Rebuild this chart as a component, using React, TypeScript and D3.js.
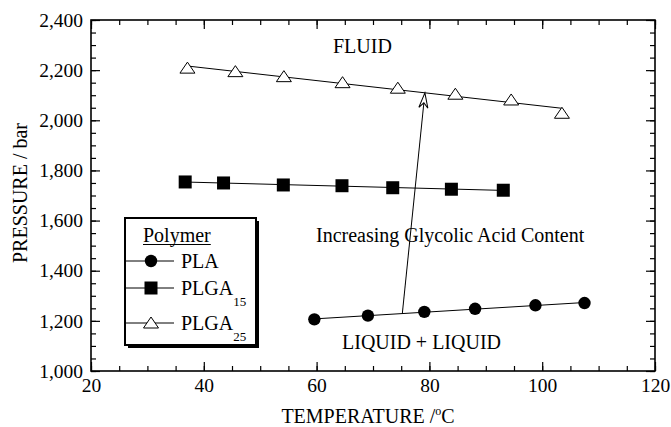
import React, { useRef, useEffect } from "react";
import * as d3 from "d3";

const plaTemp = [59.6, 69.1, 79.1, 88.1, 98.8, 107.5];
const plaPress = [1206, 1221, 1236, 1248, 1262, 1271];
const plga15Temp = [36.7, 43.5, 54.1, 64.5, 73.5, 83.9, 93.1];
const plga15Press = [1754, 1750, 1742, 1739, 1731, 1725, 1721];
const plga25Temp = [37.1, 45.6, 54.2, 64.6, 74.4, 84.6, 94.5, 103.5];
const plga25Press = [2208, 2194, 2174, 2150, 2128, 2104, 2081, 2028];
const xTicks = [20, 40, 60, 80, 100, 120];
const yTicks = [1000, 1200, 1400, 1600, 1800, 2000, 2200, 2400];
// arrow runs from the PLA fit line up to the PLGA25 fit line
const arrowTemps = [75.2, 79.2];

const FONT = "Liberation Serif, DejaVu Serif, serif";

// least squares fit
function fit(xs: number[], ys: number[]) {
  const mx = d3.mean(xs) as number;
  const my = d3.mean(ys) as number;
  let sxy = 0,
    sxx = 0;
  xs.forEach((x, i) => {
    sxy += (x - mx) * (ys[i] - my);
    sxx += (x - mx) * (x - mx);
  });
  const b = sxy / sxx;
  return (x: number) => my + b * (x - mx);
}

function App() {
  const svgRef = useRef<SVGSVGElement>(null);

  useEffect(() => {
    const margin = { top: 20, right: 16, bottom: 56, left: 91 },
      width = 671 - margin.left - margin.right,
      height = 427 - margin.top - margin.bottom;

    const root = d3.select(svgRef.current);
    root.selectAll("*").remove();

    const svg = root
      .append("g")
      .attr("transform", `translate(${margin.left}, ${margin.top})`);

    const x = d3.scaleLinear().domain([20, 120]).range([0, width]);
    const y = d3.scaleLinear().domain([1000, 2400]).range([height, 0]);

    const minorX = d3.range(20, 121, 5);
    const minorY = d3.range(1000, 2401, 50);

    const styleAxis = (g: any) => {
      g.attr("font-family", null).attr("font-size", null);
      g.select(".domain").remove();
      g.selectAll("line").attr("stroke", "#000").attr("stroke-width", 1.2);
      g.selectAll("text")
        .style("font-family", FONT)
        .attr("font-size", 19.5)
        .attr("fill", "#000");
    };

    // minor ticks all round
    svg
      .append("g")
      .attr("transform", `translate(0, ${height})`)
      .call(d3.axisBottom(x).tickValues(minorX).tickSize(-5).tickFormat(() => ""))
      .call(styleAxis);
    svg
      .append("g")
      .call(d3.axisTop(x).tickValues(minorX).tickSize(-5).tickFormat(() => ""))
      .call(styleAxis);
    svg
      .append("g")
      .call(d3.axisLeft(y).tickValues(minorY).tickSize(-5).tickFormat(() => ""))
      .call(styleAxis);
    svg
      .append("g")
      .attr("transform", `translate(${width}, 0)`)
      .call(d3.axisRight(y).tickValues(minorY).tickSize(-5).tickFormat(() => ""))
      .call(styleAxis);

    // major ticks
    svg
      .append("g")
      .attr("transform", `translate(0, ${height})`)
      .call(d3.axisBottom(x).tickValues(xTicks).tickSize(-9).tickPadding(7).tickFormat(d3.format("d")))
      .call(styleAxis);
    svg
      .append("g")
      .call(d3.axisLeft(y).tickValues(yTicks).tickSize(-9).tickPadding(8).tickFormat(d3.format(",")))
      .call(styleAxis);
    svg
      .append("g")
      .call(d3.axisTop(x).tickValues(xTicks).tickSize(-9).tickFormat(() => ""))
      .call(styleAxis);
    svg
      .append("g")
      .attr("transform", `translate(${width}, 0)`)
      .call(d3.axisRight(y).tickValues(yTicks).tickSize(-9).tickFormat(() => ""))
      .call(styleAxis);

    svg
      .append("rect")
      .attr("width", width)
      .attr("height", height)
      .attr("fill", "none")
      .attr("stroke", "#000")
      .attr("stroke-width", 1.6);

    const line = d3
      .line<number[]>()
      .x((d) => x(d[0]))
      .y((d) => y(d[1]));

    const series = [
      { t: plaTemp, p: plaPress, shape: "circle" },
      { t: plga15Temp, p: plga15Press, shape: "square" },
      { t: plga25Temp, p: plga25Press, shape: "triangle" },
    ];
    const fits = series.map((s) => fit(s.t, s.p));

    const marker = (g: any, shape: string, cx: number, cy: number) => {
      if (shape === "circle") {
        g.append("circle").attr("cx", cx).attr("cy", cy).attr("r", 6.2).attr("fill", "#000");
      } else if (shape === "square") {
        g.append("rect")
          .attr("x", cx - 6.5)
          .attr("y", cy - 6.5)
          .attr("width", 13)
          .attr("height", 13)
          .attr("fill", "#000");
      } else {
        g.append("path")
          .attr("d", `M${cx},${cy - 6}L${cx + 7.5},${cy + 5}L${cx - 7.5},${cy + 5}Z`)
          .attr("fill", "#fff")
          .attr("stroke", "#000")
          .attr("stroke-width", 1);
      }
    };

    series.forEach((s, i) => {
      const t0 = d3.min(s.t) as number,
        t1 = d3.max(s.t) as number;
      svg
        .append("path")
        .attr("d", line([[t0, fits[i](t0)], [t1, fits[i](t1)]]))
        .attr("stroke", "#000")
        .attr("stroke-width", 1)
        .attr("fill", "none");
    });
    series.forEach((s) => {
      const g = svg.append("g");
      s.t.forEach((t, j) => marker(g, s.shape, x(t), y(s.p[j])));
    });

    // arrow
    const ax0 = x(arrowTemps[0]),
      ay0 = y(fits[0](arrowTemps[0]));
    const ax1 = x(arrowTemps[1]),
      ay1 = y(fits[2](arrowTemps[1]));
    const ang = (Math.atan2(ay1 - ay0, ax1 - ax0) * 180) / Math.PI;
    const len = Math.hypot(ax1 - ax0, ay1 - ay0);
    const arrow = svg
      .append("g")
      .attr("transform", `translate(${ax0}, ${ay0}) rotate(${ang})`);
    arrow
      .append("line")
      .attr("x1", 0)
      .attr("y1", 0)
      .attr("x2", len - 10)
      .attr("y2", 0)
      .attr("stroke", "#000")
      .attr("stroke-width", 1);
    arrow
      .append("path")
      .attr("d", `M${len},0L${len - 15},-4.5L${len - 10},0L${len - 15},4.5Z`)
      .attr("fill", "#fff")
      .attr("stroke", "#000")
      .attr("stroke-width", 1);

    // annotations (absolute page coords)
    const txt = (sel: any) =>
      sel.style("font-family", FONT).attr("font-size", 20).attr("fill", "#000");
    root.append("text").attr("x", 333).attr("y", 53).text("FLUID").call(txt);
    root
      .append("text")
      .attr("x", 316)
      .attr("y", 242)
      .text("Increasing Glycolic Acid Content")
      .call(txt);
    root.append("text").attr("x", 342).attr("y", 349).text("LIQUID + LIQUID").call(txt);

    // axis titles
    const xt = root
      .append("text")
      .attr("x", 368)
      .attr("y", 423)
      .attr("text-anchor", "middle")
      .call(txt);
    xt.append("tspan").text("TEMPERATURE /");
    xt.append("tspan").attr("font-size", 12).attr("dy", -8).text("o");
    xt.append("tspan").attr("dy", 8).text("C");

    root
      .append("text")
      .attr("transform", "translate(27, 193) rotate(-90)")
      .attr("text-anchor", "middle")
      .text("PRESSURE / bar")
      .call(txt);

    // legend
    const lg = root.append("g").attr("transform", "translate(125, 218)");
    lg.append("rect").attr("x", 3).attr("y", 3).attr("width", 131).attr("height", 127).attr("fill", "#000");
    lg.append("rect")
      .attr("width", 131)
      .attr("height", 127)
      .attr("fill", "#fff")
      .attr("stroke", "#000")
      .attr("stroke-width", 2);
    const title = lg.append("text").attr("x", 18).attr("y", 24).text("Polymer").call(txt);
    const tw = (title.node() as SVGTextElement).getComputedTextLength();
    lg.append("line")
      .attr("x1", 18)
      .attr("x2", 18 + tw)
      .attr("y1", 26.5)
      .attr("y2", 26.5)
      .attr("stroke", "#000")
      .attr("stroke-width", 1);

    const legendNames = ["PLA", "PLGA", "PLGA"];
    const legendSubs = ["", "15", "25"];
    const rowY = [43, 70, 105];
    series.forEach((s, i) => {
      lg.append("line")
        .attr("x1", 0)
        .attr("x2", 49)
        .attr("y1", rowY[i])
        .attr("y2", rowY[i])
        .attr("stroke", "#000")
        .attr("stroke-width", 1);
      marker(lg, s.shape, 26, rowY[i]);
      const t = lg.append("text").attr("x", 56).attr("y", rowY[i] + 7).call(txt);
      t.append("tspan").text(legendNames[i]);
      if (legendSubs[i]) {
        t.append("tspan").attr("font-size", 13).attr("dy", 11).text(legendSubs[i]);
      }
    });
  }, []);

  return (
    <svg
      ref={svgRef}
      width={671}
      height={427}
      style={{ position: "absolute", left: 0, top: 0, background: "#fff", fontFamily: FONT }}
    ></svg>
  );
}

export default App;
